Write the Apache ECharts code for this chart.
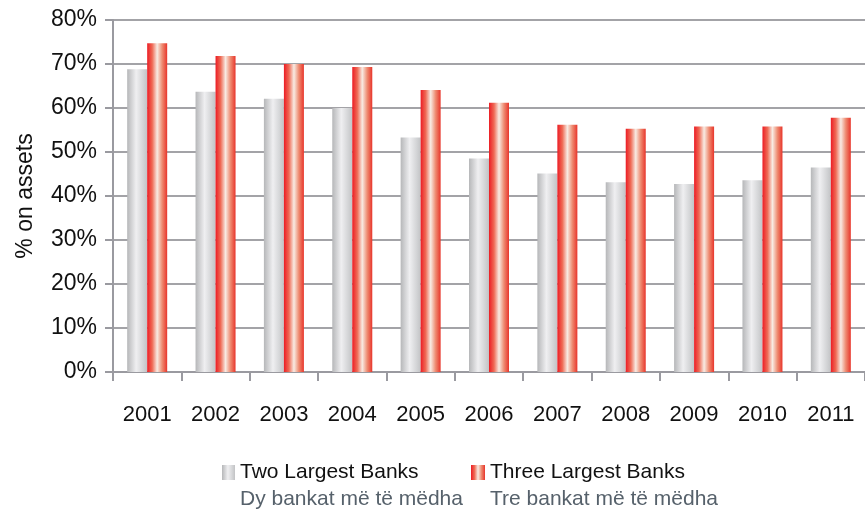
<!DOCTYPE html>
<html><head><meta charset="utf-8">
<script src="https://cdn.jsdelivr.net/npm/echarts@6/dist/echarts.min.js"></script>
<style>html,body{margin:0;padding:0;background:#fff}#c{width:865px;height:514px}</style>
</head><body><div id="c"></div>
<script>
const years = ['2001','2002','2003','2004','2005','2006','2007','2008','2009','2010','2011'];
const twoLargest = [68.8, 63.7, 62.1, 60.0, 53.3, 48.5, 45.1, 43.1, 42.7, 43.6, 46.5];
const threeLargest = [74.7, 71.8, 70.0, 69.3, 64.1, 61.2, 56.2, 55.3, 55.8, 55.8, 57.8];
const seriesNames = ['Two Largest Banks', 'Three Largest Banks'];
const subNames = ['Dy bankat më të mëdha', 'Tre bankat më të mëdha'];

const FONT = '"Liberation Sans", Arial, sans-serif';
const greyGrad = new echarts.graphic.LinearGradient(0,0,1,0,[
  {offset:0,color:'#b6b7b9'},{offset:0.45,color:'#efeff1'},{offset:0.8,color:'#d3d4d6'},{offset:1,color:'#c2c3c5'}]);
const redGrad = new echarts.graphic.LinearGradient(0,0,1,0,[
  {offset:0,color:'#ec1c24'},{offset:0.25,color:'#ef6a55'},{offset:0.5,color:'#f8ebe3'},{offset:0.75,color:'#ee8a70'},{offset:1,color:'#e8352b'}]);

const chart = echarts.init(document.getElementById('c'));
chart.setOption({
  animation:false,
  grid:{left:113, right:0, top:20, bottom:142},
  xAxis:{
    type:'category', data:years,
    axisLine:{lineStyle:{color:'#9a9aa0', width:2}},
    axisTick:{show:true, length:9, lineStyle:{color:'#9a9aa0', width:2}},
    axisLabel:{color:'#111', fontSize:22, fontFamily:FONT, margin:32}
  },
  yAxis:{
    type:'value', min:0, max:80, interval:10,
    name:'% on assets', nameLocation:'middle', nameGap:76,
    nameTextStyle:{color:'#111', fontSize:23, fontFamily:FONT},
    axisLine:{show:true, lineStyle:{color:'#9a9aa0', width:2}},
    axisTick:{show:true, length:8, lineStyle:{color:'#9a9aa0', width:2}},
    axisLabel:{color:'#111', fontSize:23, fontFamily:FONT, margin:16, formatter:'{value}%'},
    splitLine:{lineStyle:{color:'#a3a3a7', width:2}}
  },
  legend:[
    {data:[{name:seriesNames[0], icon:'rect'}], left:222, top:462, padding:0, itemWidth:13, itemHeight:15,
     textStyle:{color:'#111', fontSize:21, fontFamily:FONT}},
    {data:[{name:seriesNames[1], icon:'rect'}], left:471, top:462, padding:0, itemWidth:14, itemHeight:15,
     textStyle:{color:'#111', fontSize:21, fontFamily:FONT}}
  ],
  graphic:[
    {type:'text', left:240, top:489, style:{text:subNames[0], fill:'#56616b', font:'21px '+FONT}},
    {type:'text', left:490, top:489, style:{text:subNames[1], fill:'#56616b', font:'21px '+FONT}}
  ],
  series:[
    {name:seriesNames[0], type:'bar', data:twoLargest, barWidth:20, barGap:'0%', itemStyle:{color:greyGrad}},
    {name:seriesNames[1], type:'bar', data:threeLargest, barWidth:20, barGap:'0%', itemStyle:{color:redGrad}}
  ]
});
</script></body></html>
